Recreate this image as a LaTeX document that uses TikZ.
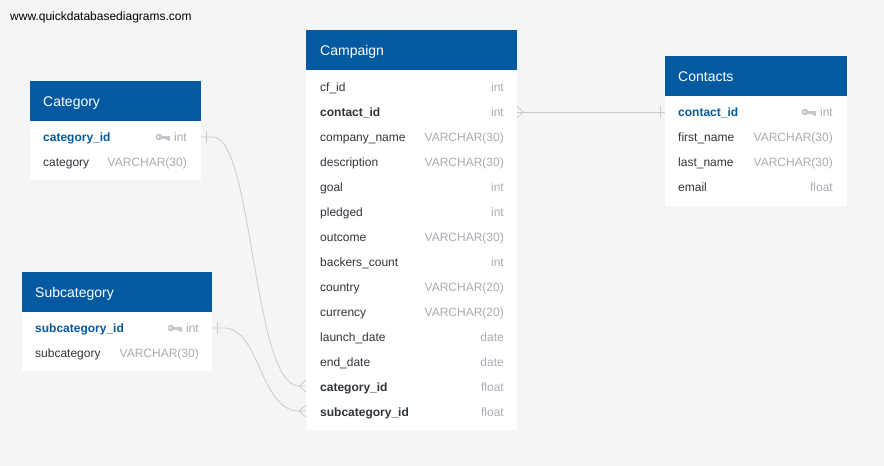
\documentclass[tikz,border=0pt]{standalone}
\usepackage{fontspec}
\setmainfont{Liberation Sans}
\begin{document}
\begin{tikzpicture}[x=1pt,y=-1pt,
  hdrfill/.style={fill=qdbblue,draw=none},
  bodyfill/.style={fill=white,draw=none},
  ttl/.style={anchor=base west,inner sep=0pt,text=white,font=\fontsize{14}{16}\selectfont},
  fname/.style={anchor=base west,inner sep=0pt,text=fieldtxt,font=\fontsize{12}{14}\selectfont},
  fkey/.style={fname,font=\fontsize{12}{14}\selectfont\bfseries},
  pkey/.style={fname,text=qdbblue,font=\fontsize{12}{14}\selectfont\bfseries},
  ftype/.style={anchor=base east,inner sep=0pt,text=typetxt,font=\fontsize{12}{14}\selectfont},
  rel/.style={draw=relgray,line width=0.8pt},
  keyicon/.pic={
    \fill[keygray] (0,0) circle (3.4);
    \fill[keygray] (2,-1.5) rectangle (11,1.5);
    \fill[keygray] (7,1) rectangle (8.6,3.3);
    \fill[keygray] (9.5,1) rectangle (11,3.8);
    \fill[white] (-0.7,0) circle (1.1);
  }]
\definecolor{qdbblue}{RGB}{4,90,160}
\definecolor{bg}{RGB}{244,246,246}
\definecolor{fieldtxt}{RGB}{48,52,58}
\definecolor{typetxt}{RGB}{168,172,178}
\definecolor{keygray}{RGB}{196,200,204}
\definecolor{relgray}{RGB}{200,202,204}
\useasboundingbox (0,0) rectangle (884,466);
\fill[bg] (0,0) rectangle (884,466);

\node[anchor=base west,inner sep=0pt,font=\fontsize{12}{14}\selectfont] (wm) at (10,20.5) {www.quickdatabasediagrams.com};

% ---------- Category ----------
\fill[bodyfill] (30,121) rectangle (201,180);
\fill[hdrfill] (30,81) rectangle (201,121);
\node[ttl] (cattitle) at (43,106) {Category};
\node[pkey] (cat1) at (43,141.5) {category\_id};
\node[ftype] (cat1t) at (187,141.5) {int};
\pic at ([xshift=-15pt,yshift=4.5pt]cat1t.base west) {keyicon};
\node[fname] (cat2) at (43,166.5) {category};
\node[ftype] (cat2t) at (187,166.5) {VARCHAR(30)};
\coordinate (catR) at (201,137);

% ---------- Subcategory ----------
\fill[bodyfill] (22,312) rectangle (212,371);
\fill[hdrfill] (22,272) rectangle (212,312);
\node[ttl] (subtitle) at (35,297) {Subcategory};
\node[pkey] (sub1) at (35,332.5) {subcategory\_id};
\node[ftype] (sub1t) at (199,332.5) {int};
\pic at ([xshift=-15pt,yshift=4.5pt]sub1t.base west) {keyicon};
\node[fname] (sub2) at (35,357.5) {subcategory};
\node[ftype] (sub2t) at (199,357.5) {VARCHAR(30)};
\coordinate (subR) at (212,328);

% ---------- Campaign ----------
\fill[bodyfill] (306,70) rectangle (517,430);
\fill[hdrfill] (306,30) rectangle (517,70);
\node[ttl] (camptitle) at (320,55) {Campaign};
\foreach \n/\t/\s [count=\i] in {cf\_id/int/fname, contact\_id/int/fkey, company\_name/VARCHAR(30)/fname, description/VARCHAR(30)/fname, goal/int/fname, pledged/int/fname, outcome/VARCHAR(30)/fname, backers\_count/int/fname, country/VARCHAR(20)/fname, currency/VARCHAR(20)/fname, launch\_date/date/fname, end\_date/date/fname, category\_id/float/fkey, subcategory\_id/float/fkey}{
  \node[\s] (camp\i) at (320,{91.5+25*(\i-1)}) {\n};
  \node[ftype] (camp\i t) at (504,{91.5+25*(\i-1)}) {\t};
}
\coordinate (campR) at (517,112);
\coordinate (campL1) at (306,386);
\coordinate (campL2) at (306,411);

% ---------- Contacts ----------
\fill[bodyfill] (665,96) rectangle (847,206);
\fill[hdrfill] (665,56) rectangle (847,96);
\node[ttl] (conttitle) at (678,81) {Contacts};
\node[pkey] (cont1) at (678,116.5) {contact\_id};
\node[ftype] (cont1t) at (833,116.5) {int};
\pic at ([xshift=-15pt,yshift=4.5pt]cont1t.base west) {keyicon};
\node[fname] (cont2) at (678,141.5) {first\_name};
\node[ftype] (cont2t) at (833,141.5) {VARCHAR(30)};
\node[fname] (cont3) at (678,166.5) {last\_name};
\node[ftype] (cont3t) at (833,166.5) {VARCHAR(30)};
\node[fname] (cont4) at (678,191.5) {email};
\node[ftype] (cont4t) at (833,191.5) {float};
\coordinate (contL) at (665,112);

% ---------- Relationships ----------
% Category -> Campaign.category_id
\draw[rel] (catR) -- ++(12,0) .. controls (253,137) and (253,386) .. ([xshift=-7pt]campL1) -- (campL1);
\draw[rel] ([xshift=5pt]catR) ++(0,-6) -- ++(0,12);
\draw[rel] ([xshift=-7pt]campL1) -- ([yshift=-6pt]campL1);
\draw[rel] ([xshift=-7pt]campL1) -- ([yshift=6pt]campL1);
% Subcategory -> Campaign.subcategory_id
\draw[rel] (subR) -- ++(12,0) .. controls (260,328) and (260,411) .. ([xshift=-7pt]campL2) -- (campL2);
\draw[rel] ([xshift=5pt]subR) ++(0,-6) -- ++(0,12);
\draw[rel] ([xshift=-7pt]campL2) -- ([yshift=-6pt]campL2);
\draw[rel] ([xshift=-7pt]campL2) -- ([yshift=6pt]campL2);
% Campaign.contact_id -> Contacts
\draw[rel] (campR) -- (contL);
\draw[rel] ([xshift=6pt]campR) -- ([yshift=-6pt]campR);
\draw[rel] ([xshift=6pt]campR) -- ([yshift=6pt]campR);
\draw[rel] ([xshift=-5pt]contL) ++(0,-6) -- ++(0,12);
\end{tikzpicture}
\end{document}
